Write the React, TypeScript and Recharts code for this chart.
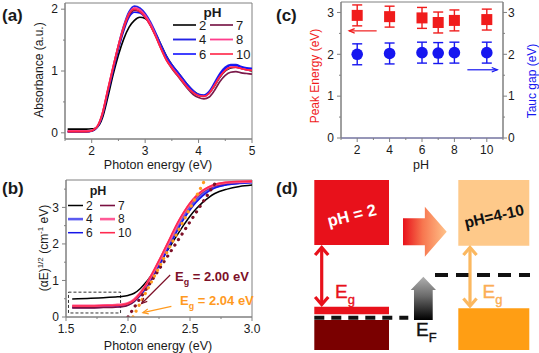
import React from 'react';
import {
  ComposedChart, Line, Scatter, XAxis, YAxis, ErrorBar,
  ReferenceArea, ReferenceLine, ReferenceDot,
} from 'recharts';

const FONT = "'Liberation Sans', Arial, Helvetica, sans-serif";
const AXIS = '#808080';
const INK = '#1a1a1a';

// ---------------- (a) absorbance spectra ----------------
const absEnergy = [1.55, 1.7, 1.8, 1.9, 2.0, 2.05, 2.1, 2.15, 2.2, 2.3, 2.4, 2.5, 2.6, 2.7, 2.8, 2.9, 3.0, 3.1, 3.2, 3.3, 3.4, 3.5, 3.6, 3.7, 3.8, 3.9, 4.0, 4.1, 4.2, 4.3, 4.4, 4.5, 4.6, 4.7, 4.8, 4.9, 5.0];
const absPH2 = [0.06, 0.06, 0.06, 0.06, 0.065, 0.07, 0.09, 0.14, 0.24, 0.57, 0.94, 1.26, 1.52, 1.71, 1.82, 1.87, 1.85, 1.76, 1.6, 1.42, 1.24, 1.1, 0.99, 0.88, 0.77, 0.68, 0.62, 0.6, 0.64, 0.76, 0.9, 1.0, 1.05, 1.06, 1.04, 1.02, 1.0];
const absPH4 = [0.02, 0.02, 0.02, 0.02, 0.03, 0.05, 0.09, 0.17, 0.3, 0.67, 1.05, 1.41, 1.73, 1.96, 2.05, 2.02, 1.93, 1.79, 1.61, 1.41, 1.23, 1.1, 0.99, 0.88, 0.77, 0.68, 0.62, 0.61, 0.67, 0.81, 0.96, 1.06, 1.1, 1.1, 1.07, 1.05, 1.04];
const absPH6 = [0.02, 0.02, 0.02, 0.02, 0.03, 0.05, 0.09, 0.16, 0.28, 0.64, 1.0, 1.35, 1.65, 1.87, 1.95, 1.94, 1.87, 1.74, 1.57, 1.38, 1.2, 1.08, 0.97, 0.86, 0.75, 0.66, 0.61, 0.6, 0.65, 0.79, 0.94, 1.04, 1.09, 1.09, 1.06, 1.04, 1.03];
const absPH7 = [0.02, 0.02, 0.02, 0.02, 0.03, 0.05, 0.09, 0.17, 0.29, 0.66, 1.03, 1.38, 1.68, 1.9, 1.98, 1.96, 1.88, 1.74, 1.56, 1.36, 1.18, 1.04, 0.93, 0.82, 0.71, 0.62, 0.57, 0.55, 0.58, 0.69, 0.83, 0.93, 0.98, 0.99, 0.97, 0.96, 0.95];
const absPH8 = [0.03, 0.03, 0.03, 0.03, 0.04, 0.06, 0.1, 0.18, 0.31, 0.69, 1.06, 1.41, 1.71, 1.93, 2.02, 1.99, 1.9, 1.76, 1.57, 1.36, 1.18, 1.06, 0.95, 0.84, 0.73, 0.65, 0.6, 0.59, 0.64, 0.77, 0.91, 1.01, 1.06, 1.06, 1.04, 1.02, 1.01];
const absPH10 = [0.02, 0.02, 0.02, 0.02, 0.03, 0.06, 0.1, 0.19, 0.32, 0.7, 1.07, 1.42, 1.72, 1.93, 2.0, 1.96, 1.87, 1.73, 1.55, 1.35, 1.17, 1.05, 0.94, 0.83, 0.73, 0.65, 0.6, 0.59, 0.64, 0.77, 0.91, 1.01, 1.06, 1.06, 1.04, 1.02, 1.01];

// ---------------- (b) Tauc plot ----------------
const taucEnergy = [1.55, 1.7, 1.8, 1.9, 1.95, 2.0, 2.05, 2.1, 2.15, 2.2, 2.25, 2.3, 2.35, 2.4, 2.45, 2.5, 2.55, 2.6, 2.65, 2.7, 2.8, 2.9, 3.0];
const taucPH2 = [0.49, 0.51, 0.53, 0.55, 0.56, 0.59, 0.65, 0.78, 0.97, 1.2, 1.45, 1.72, 1.99, 2.26, 2.52, 2.76, 2.96, 3.13, 3.27, 3.38, 3.5, 3.57, 3.61];
const taucPH4 = [0.27, 0.27, 0.28, 0.29, 0.3, 0.34, 0.44, 0.61, 0.85, 1.13, 1.45, 1.78, 2.12, 2.45, 2.75, 3.0, 3.2, 3.36, 3.48, 3.56, 3.64, 3.67, 3.69];
const taucPH6 = [0.28, 0.28, 0.29, 0.3, 0.31, 0.35, 0.44, 0.6, 0.82, 1.09, 1.4, 1.72, 2.05, 2.38, 2.68, 2.93, 3.14, 3.31, 3.44, 3.53, 3.62, 3.66, 3.68];
const taucPH7 = [0.25, 0.25, 0.26, 0.27, 0.28, 0.32, 0.43, 0.62, 0.88, 1.18, 1.51, 1.85, 2.2, 2.54, 2.84, 3.08, 3.27, 3.42, 3.52, 3.59, 3.66, 3.69, 3.7];
const taucPH8 = [0.31, 0.31, 0.32, 0.33, 0.34, 0.38, 0.48, 0.66, 0.9, 1.2, 1.52, 1.86, 2.2, 2.55, 2.85, 3.1, 3.3, 3.45, 3.55, 3.62, 3.68, 3.7, 3.71];
const taucPH10 = [0.3, 0.3, 0.31, 0.32, 0.33, 0.37, 0.47, 0.66, 0.91, 1.22, 1.55, 1.89, 2.24, 2.58, 2.87, 3.12, 3.31, 3.46, 3.56, 3.63, 3.69, 3.71, 3.72];
const fitGap200 = [{ x: 2.0, y: 0 }, { x: 2.72, y: 3.75 }];
const fitGap204 = [{ x: 2.04, y: 0 }, { x: 2.62, y: 3.75 }];

// ---------------- (c) peak energy / Tauc gap ----------------
const cPH = [2, 4, 6, 7, 8, 10];
const peakEnergy = [2.93, 2.9, 2.87, 2.76, 2.81, 2.83];
const peakErr = [0.25, 0.25, 0.25, 0.25, 0.25, 0.25];
const taucGap = [2.0, 2.02, 2.04, 2.03, 2.04, 2.04];
const taucErr = [0.25, 0.25, 0.25, 0.25, 0.25, 0.25];

const phLabels = ['2', '4', '6', '7', '8', '10'];
const phKeys = ['p2', 'p4', 'p6', 'p7', 'p8', 'p10'];

// styles (kept apart from data)
const styleA: Record<string, { c: string; w: number }> = {
  p2: { c: '#000000', w: 1.6 }, p4: { c: '#2323e6', w: 1.9 }, p6: { c: '#1010ff', w: 1.6 },
  p7: { c: '#7a1a4a', w: 1.7 }, p8: { c: '#ff3d8c', w: 1.8 }, p10: { c: '#ff2244', w: 1.6 },
};
const styleB: Record<string, { c: string; w: number }> = {
  p2: { c: '#000000', w: 1.5 }, p4: { c: '#5b5bf0', w: 2.6 }, p6: { c: '#1515e8', w: 1.5 },
  p7: { c: '#7a1040', w: 1.6 }, p8: { c: '#ff5a96', w: 2.6 }, p10: { c: '#ff2a50', w: 1.6 },
};

const absRows = absEnergy.map((x, i) => ({
  x, p2: absPH2[i], p4: absPH4[i], p6: absPH6[i], p7: absPH7[i], p8: absPH8[i], p10: absPH10[i],
}));
const taucRows = taucEnergy.map((x, i) => ({
  x, p2: taucPH2[i], p4: taucPH4[i], p6: taucPH6[i], p7: taucPH7[i], p8: taucPH8[i], p10: taucPH10[i],
}));
const peakRows = cPH.map((ph, i) => ({ ph, peak: peakEnergy[i], err: peakErr[i] }));
const gapRows = cPH.map((ph, i) => ({ ph, tauc: taucGap[i], err: taucErr[i] }));

// ---------------- tick helpers ----------------
const TS = 4;
const TM = 3;
const TICK_FS = 12;
function tickRenderer(side: 'bottom' | 'left' | 'right', majors: number[], fmt: (v: number) => string) {
  return (props: any) => {
    const { x, y, payload } = props;
    const v = Number(payload.value);
    const major = majors.some((m) => Math.abs(m - v) < 1e-9);
    const len = major ? TS : 2;
    if (side === 'bottom') {
      const ay = y - TS - TM;
      return (
        <g>
          <line x1={x} x2={x} y1={ay} y2={ay + len} stroke={AXIS} />
          {major && (
            <text x={x} y={ay + 16} textAnchor="middle" fontSize={TICK_FS} fill={INK} fontFamily={FONT}>{fmt(v)}</text>
          )}
        </g>
      );
    }
    if (side === 'left') {
      const ax = x + TS + TM;
      return (
        <g>
          <line x1={ax - len} x2={ax} y1={y} y2={y} stroke={AXIS} />
          {major && (
            <text x={ax - 7} y={y + 4.3} textAnchor="end" fontSize={TICK_FS} fill={INK} fontFamily={FONT}>{fmt(v)}</text>
          )}
        </g>
      );
    }
    const ax = x - TS - TM;
    return (
      <g>
        <line x1={ax} x2={ax + len} y1={y} y2={y} stroke={AXIS} />
        {major && (
          <text x={ax + 5} y={y + 4.3} textAnchor="start" fontSize={TICK_FS} fill={INK} fontFamily={FONT}>{fmt(v)}</text>
        )}
      </g>
    );
  };
}

// arrow shape for ReferenceLine segments
const arrowShape = (color: string, width: number, head: number, spread: number, both: boolean) => (p: any) => {
  const { x1, y1, x2, y2 } = p;
  const a = Math.atan2(y2 - y1, x2 - x1);
  const hd = (x: number, y: number, ang: number) => {
    const ax = x - head * Math.cos(ang - spread);
    const ay = y - head * Math.sin(ang - spread);
    const bx = x - head * Math.cos(ang + spread);
    const by = y - head * Math.sin(ang + spread);
    return <polyline points={`${ax},${ay} ${x},${y} ${bx},${by}`} fill="none" stroke={color} strokeWidth={width} strokeLinecap="butt" />;
  };
  return (
    <g>
      <line x1={x1} y1={y1} x2={x2} y2={y2} stroke={color} strokeWidth={width} />
      {hd(x2, y2, a)}
      {both && hd(x1, y1, a + Math.PI)}
    </g>
  );
};

const egText = (value: string, color: string, fs: number, bold: boolean) => (p: any) => (
  <text x={p.cx} y={p.cy} fill={color} fontSize={fs} fontWeight={bold ? 'bold' : 'normal'} fontFamily={FONT}>
    E<tspan fontSize={fs * 0.68} dy={fs * 0.3}>g</tspan>
    <tspan dy={-fs * 0.3}>{value}</tspan>
  </text>
);

// ---------------- panel (d) diagram elements ----------------
const diagBoxes = [
  { x1: 44.3, x2: 119, y1: 5, y2: 70, fill: '#e8111b' },
  { x1: 188.3, x2: 259.3, y1: 5, y2: 70.7, fill: '#fec98a' },
  { x1: 44.3, x2: 119, y1: 131.7, y2: 139.3, fill: '#e8111b' },
  { x1: 44.3, x2: 119, y1: 145, y2: 175, fill: '#7a0000' },
  { x1: 188.3, x2: 259.3, y1: 133.3, y2: 175, fill: '#ff9e14' },
];

const midArrowShape = (p: any) => {
  const { x, y, width: w, height: h } = p;
  const sx = x + w * 0.5;
  const d = `M${x},${y + h * 0.23} L${sx},${y + h * 0.23} L${sx},${y} L${x + w},${y + h * 0.5} L${sx},${y + h} L${sx},${y + h * 0.77} L${x},${y + h * 0.77} Z`;
  return (
    <g>
      <defs>
        <linearGradient id="midGrad" x1="0" x2="1" y1="0" y2="0">
          <stop offset="0" stopColor="#e8111b" />
          <stop offset="0.45" stopColor="#f7764f" />
          <stop offset="1" stopColor="#ffc38a" />
        </linearGradient>
      </defs>
      <path d={d} fill="url(#midGrad)" />
    </g>
  );
};

const grayArrowShape = (p: any) => {
  const { x, y, width: w, height: h } = p;
  const hb = y + h * 0.31;
  const d = `M${x + w / 2},${y} L${x + w},${hb} L${x + w * 0.87},${hb} L${x + w * 0.87},${y + h} L${x + w * 0.13},${y + h} L${x + w * 0.13},${hb} L${x},${hb} Z`;
  return (
    <g>
      <defs>
        <linearGradient id="grayGrad" x1="0" x2="0" y1="0" y2="1">
          <stop offset="0" stopColor="#b0b0b0" />
          <stop offset="0.45" stopColor="#6a6a6a" />
          <stop offset="1" stopColor="#000000" />
        </linearGradient>
      </defs>
      <path d={d} fill="url(#grayGrad)" />
    </g>
  );
};

const diagText = (label: string, color: string, fs: number, rot: number) => (p: any) => (
  <text x={p.cx} y={p.cy} fill={color} fontSize={fs} fontWeight="bold" fontFamily={FONT}
    textAnchor="middle" dominantBaseline="central" transform={`rotate(${rot} ${p.cx} ${p.cy})`}>{label}</text>
);

const subText = (main: string, sub: string, color: string, fs: number) => (p: any) => (
  <text x={p.cx} y={p.cy} fill={color} fontSize={fs} fontFamily={FONT} stroke={color} strokeWidth={0.4}>
    {main}<tspan fontSize={fs * 0.68} dy={fs * 0.32}>{sub}</tspan>
  </text>
);

// ---------------- overlay legend ----------------
function LegendBlock(props: { x0: number; y0: number; lineW: number; col2: number; rowH: number; styles: Record<string, { c: string; w: number }>; fs: number; titleFs: number; titleX: number; titleY: number }) {
  const { x0, y0, lineW, col2, rowH, styles, fs, titleFs, titleX, titleY } = props;
  return (
    <g fontFamily={FONT}>
      <text x={titleX} y={titleY} fontSize={titleFs} fontWeight="bold" textAnchor="middle" fill={INK}>pH</text>
      {phKeys.map((k, i) => {
        const col = i < 3 ? 0 : 1;
        const row = i % 3;
        const lx = x0 + col * col2;
        const ly = y0 + row * rowH;
        return (
          <g key={k}>
            <line x1={lx} x2={lx + lineW} y1={ly} y2={ly} stroke={styles[k].c} strokeWidth={styles[k].w} />
            <text x={lx + lineW + 3} y={ly + fs * 0.36} fontSize={fs} fill={INK}>{phLabels[i]}</text>
          </g>
        );
      })}
    </g>
  );
}

export default function App() {
  return (
    <div style={{ position: 'absolute', left: 0, top: 0, width: 539, height: 353, background: '#fff', fontFamily: FONT }}>
      {/* (a) */}
      <div style={{ position: 'absolute', left: 0, top: 0 }}>
        <ComposedChart width={270} height={175} data={absRows} margin={{ top: 3, right: 18, bottom: 0, left: 0 }}>
          <XAxis dataKey="x" type="number" domain={[1.5, 5]} allowDataOverflow height={36}
            ticks={[1.5, 2, 2.5, 3, 3.5, 4, 4.5, 5]} interval={0} tickSize={TS} tickMargin={TM}
            tickLine={false} axisLine={{ stroke: AXIS }} tick={tickRenderer('bottom', [2, 3, 4, 5], (v) => String(v))} />
          <YAxis type="number" domain={[-0.1, 2.1]} allowDataOverflow width={65}
            ticks={[0, 0.5, 1, 1.5, 2]} interval={0} tickSize={TS} tickMargin={TM}
            tickLine={false} axisLine={{ stroke: AXIS }} tick={tickRenderer('left', [0, 1, 2], (v) => String(v))} />
          <ReferenceArea x1={1.5} x2={5} y1={-0.1} y2={2.1} fill="none" stroke={AXIS} strokeWidth={1} />
          {phKeys.map((k) => (
            <Line key={k} dataKey={k} type="monotone" stroke={styleA[k].c} strokeWidth={styleA[k].w} dot={false} isAnimationActive={false} />
          ))}
        </ComposedChart>
      </div>

      {/* (b) */}
      <div style={{ position: 'absolute', left: 0, top: 175 }}>
        <ComposedChart width={270} height={178} data={taucRows} margin={{ top: 5, right: 18, bottom: 0, left: 0 }}>
          <XAxis dataKey="x" type="number" domain={[1.5, 3.0]} allowDataOverflow height={36}
            ticks={[1.5, 1.75, 2, 2.25, 2.5, 2.75, 3]} interval={0} tickSize={TS} tickMargin={TM}
            tickLine={false} axisLine={{ stroke: AXIS }} tick={tickRenderer('bottom', [1.5, 2, 2.5, 3], (v) => v.toFixed(1))} />
          <YAxis type="number" domain={[0, 3.75]} allowDataOverflow width={66}
            ticks={[0, 0.5, 1, 1.5, 2, 2.5, 3, 3.5]} interval={0} tickSize={TS} tickMargin={TM}
            tickLine={false} axisLine={{ stroke: AXIS }} tick={tickRenderer('left', [0, 1, 2, 3], (v) => String(v))} />
          <ReferenceArea x1={1.5} x2={3.0} y1={0} y2={3.75} fill="none" stroke={AXIS} strokeWidth={1} />
          <ReferenceArea x1={1.52} x2={1.94} y1={0.11} y2={0.68} fill="none" stroke="#333" strokeWidth={1} strokeDasharray="3 2" />
          {phKeys.map((k) => (
            <Line key={k} dataKey={k} type="monotone" stroke={styleB[k].c} strokeWidth={styleB[k].w} dot={false} isAnimationActive={false} />
          ))}
          <Line data={fitGap200} dataKey="y" type="linear" stroke="#7d1028" strokeWidth={3.2} strokeLinecap="round" strokeDasharray="0.1 6.5" dot={false} isAnimationActive={false} />
          <Line data={fitGap204} dataKey="y" type="linear" stroke="#ff9a1f" strokeWidth={3.2} strokeLinecap="round" strokeDasharray="0.1 6.5" dot={false} isAnimationActive={false} />
          <ReferenceLine segment={[{ x: 2.34, y: 1.15 }, { x: 2.11, y: 0.37 }]} shape={arrowShape('#7d1028', 1.2, 6, 0.42, false)} />
          <ReferenceLine segment={[{ x: 2.35, y: 0.29 }, { x: 2.12, y: 0.12 }]} shape={arrowShape('#ff9a1f', 1.2, 6, 0.42, false)} />
          <ReferenceDot x={2.38} y={0.99} r={1} shape={egText(' = 2.00 eV', '#7d1028', 13, true)} />
          <ReferenceDot x={2.42} y={0.32} r={1} shape={egText(' = 2.04 eV', '#ff9a1f', 13, true)} />
        </ComposedChart>
      </div>

      {/* (c) */}
      <div style={{ position: 'absolute', left: 270, top: 0 }}>
        <ComposedChart width={269} height={175} margin={{ top: 2, right: 0, bottom: 0, left: 0 }}>
          <XAxis dataKey="ph" type="number" domain={[1, 11]} allowDataOverflow height={37}
            ticks={[1, 2, 3, 4, 5, 6, 7, 8, 9, 10, 11]} interval={0} tickSize={TS} tickMargin={TM}
            tickLine={false} axisLine={{ stroke: '#6f6fb0' }} tick={tickRenderer('bottom', [2, 4, 6, 8, 10], (v) => String(v))} />
          <YAxis yAxisId="left" dataKey="peak" type="number" domain={[0, 3.25]} allowDataOverflow width={71}
            ticks={[0, 0.5, 1, 1.5, 2, 2.5, 3]} interval={0} tickSize={TS} tickMargin={TM}
            tickLine={false} axisLine={{ stroke: AXIS }} tick={tickRenderer('left', [0, 1, 2, 3], (v) => String(v))} />
          <YAxis yAxisId="right" orientation="right" dataKey="tauc" type="number" domain={[0, 3.25]} allowDataOverflow width={36}
            ticks={[0, 0.5, 1, 1.5, 2, 2.5, 3]} interval={0} tickSize={TS} tickMargin={TM}
            tickLine={false} axisLine={{ stroke: AXIS }} tick={tickRenderer('right', [0, 1, 2, 3], (v) => String(v))} />
          <ReferenceArea yAxisId="left" x1={1} x2={11} y1={0} y2={3.25} fill="none" stroke={AXIS} strokeWidth={1} />
          <Scatter yAxisId="left" data={peakRows} dataKey="peak" isAnimationActive={false}
            shape={(p: any) => <rect x={p.cx - 5.5} y={p.cy - 5.5} width={11} height={11} fill="#f01c1c" />}>
            <ErrorBar dataKey="err" direction="y" width={5} stroke="#f01c1c" strokeWidth={1.4} />
          </Scatter>
          <Scatter yAxisId="right" data={gapRows} dataKey="tauc" isAnimationActive={false}
            shape={(p: any) => <circle cx={p.cx} cy={p.cy} r={5.8} fill="#1616f0" />}>
            <ErrorBar dataKey="err" direction="y" width={5} stroke="#1616f0" strokeWidth={1.4} />
          </Scatter>
          <ReferenceLine yAxisId="left" segment={[{ x: 3.2, y: 2.56 }, { x: 1.5, y: 2.56 }]} shape={arrowShape('#f01c1c', 1.2, 6, 0.38, false)} />
          <ReferenceLine yAxisId="left" segment={[{ x: 8.8, y: 1.63 }, { x: 10.65, y: 1.63 }]} shape={arrowShape('#1616f0', 1.2, 6, 0.38, false)} />
        </ComposedChart>
      </div>

      {/* (d) */}
      <div style={{ position: 'absolute', left: 270, top: 175 }}>
        <ComposedChart width={269} height={178} data={[{ x: 0, y: 0 }, { x: 269, y: 178 }]} margin={{ top: 0, right: 0, bottom: 0, left: 0 }}>
          <XAxis dataKey="x" type="number" domain={[0, 269]} allowDataOverflow hide />
          <YAxis dataKey="y" type="number" domain={[0, 178]} allowDataOverflow reversed hide />
          {diagBoxes.map((b, i) => (
            <ReferenceArea key={i} x1={b.x1} x2={b.x2} y1={b.y1} y2={b.y2} fill={b.fill} fillOpacity={1} stroke="none" />
          ))}
          <ReferenceArea x1={133} x2={176.7} y1={31.7} y2={81.7} shape={midArrowShape} />
          <ReferenceArea x1={140.7} x2={166} y1={101.7} y2={145} shape={grayArrowShape} />
          <ReferenceLine segment={[{ x: 44.3, y: 142.7 }, { x: 138.3, y: 142.7 }]} stroke="#111" strokeWidth={4} strokeDasharray="10 7" />
          <ReferenceLine segment={[{ x: 165, y: 100 }, { x: 260, y: 100 }]} stroke="#111" strokeWidth={4} strokeDasharray="13 8" />
          <ReferenceLine segment={[{ x: 51.7, y: 72.5 }, { x: 51.7, y: 129.5 }]} shape={arrowShape('#e8111b', 3.2, 10, 0.72, true)} />
          <ReferenceLine segment={[{ x: 200, y: 72.5 }, { x: 200, y: 131 }]} shape={arrowShape('#fbb860', 3.2, 10, 0.72, true)} />
          <ReferenceDot x={81.7} y={40} r={1} shape={diagText('pH = 2', '#ffffff', 16.5, -14)} />
          <ReferenceDot x={224} y={41} r={1} shape={diagText('pH=4-10', '#111111', 15.5, -13)} />
          <ReferenceDot x={65} y={123} r={1} shape={subText('E', 'g', '#e8111b', 19)} />
          <ReferenceDot x={212.5} y={123} r={1} shape={subText('E', 'g', '#fbad55', 19)} />
          <ReferenceDot x={146} y={161} r={1} shape={subText('E', 'F', '#111111', 19)} />
        </ComposedChart>
      </div>

      {/* overlay: panel letters, axis titles, legends */}
      <svg width={539} height={353} style={{ position: 'absolute', left: 0, top: 0, pointerEvents: 'none' }} fontFamily={FONT}>
        <text x={2} y={21} fontSize={17} fontWeight="bold" fill={INK}>(a)</text>
        <text x={2} y={194} fontSize={17} fontWeight="bold" fill={INK}>(b)</text>
        <text x={276} y={21} fontSize={17} fontWeight="bold" fill={INK}>(c)</text>
        <text x={276} y={194} fontSize={17} fontWeight="bold" fill={INK}>(d)</text>

        <text x={158} y={169} fontSize={12.5} textAnchor="middle" fill={INK}>Photon energy (eV)</text>
        <text x={158} y={350} fontSize={12.5} textAnchor="middle" fill={INK}>Photon energy (eV)</text>
        <text x={421} y={169} fontSize={12.5} textAnchor="middle" fill={INK}>pH</text>

        <text x={43} y={70} fontSize={12} textAnchor="middle" fill={INK} transform="rotate(-90 43 70)">Absorbance (a.u.)</text>
        <text x={48} y={248} fontSize={12} textAnchor="middle" fill={INK} transform="rotate(-90 48 248)">
          (αE)<tspan fontSize={8} dy={-5}>1/2</tspan><tspan dy={5}> (cm</tspan><tspan fontSize={8} dy={-5}>-1</tspan><tspan dy={5}> eV)</tspan>
        </text>
        <text x={319} y={76} fontSize={12} textAnchor="middle" fill="#f01c1c" transform="rotate(-90 319 76)">Peak Energy (eV)</text>
        <text x={536} y={81} fontSize={12} textAnchor="middle" fill="#1616f0" transform="rotate(-90 536 81)">Tauc gap (eV)</text>

        <LegendBlock x0={173} y0={25} lineW={23} col2={37} rowH={14.5} styles={styleA} fs={13} titleFs={13.5} titleX={212.5} titleY={17} />
        <LegendBlock x0={68} y0={205.5} lineW={15} col2={32} rowH={13.6} styles={styleB} fs={12} titleFs={12.5} titleX={98} titleY={195} />
      </svg>
    </div>
  );
}
